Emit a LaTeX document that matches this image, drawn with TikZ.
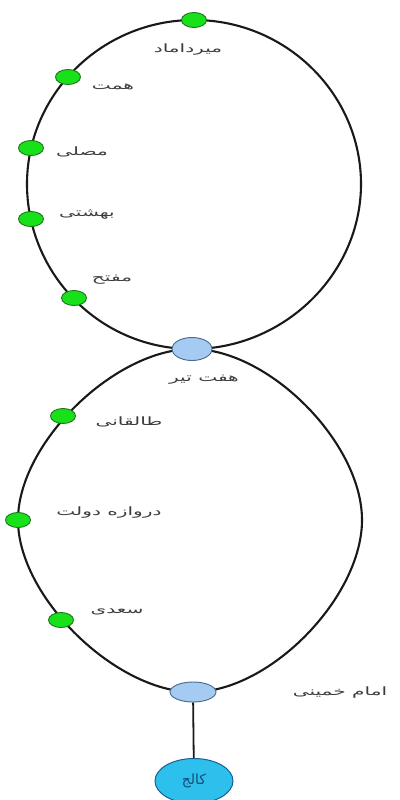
\documentclass[tikz,border=0pt]{standalone}
\usepackage{fontspec}
\usepackage{xcolor}
\usepackage{tikz}
\usetikzlibrary{shapes.geometric, backgrounds}
\newfontfamily\farsi[Script=Arabic]{DejaVu Sans}
\TeXXeTstate=1

\definecolor{stfill}{RGB}{25,225,25}
\definecolor{stdraw}{RGB}{25,115,25}
\definecolor{hubfill}{RGB}{165,203,242}
\definecolor{hubdraw}{RGB}{70,105,140}
\definecolor{endfill}{RGB}{45,192,236}
\definecolor{enddraw}{RGB}{25,95,150}
\definecolor{lblgray}{RGB}{60,60,60}

\begin{document}
\begin{tikzpicture}[x=1pt, y=-1pt,
    track/.style={draw=black!90, line width=2.1pt},
    station/.style={ellipse, draw=stdraw, fill=stfill, line width=0.9pt, inner sep=0pt, minimum width=25pt, minimum height=15pt},
    hub/.style={ellipse, draw=hubdraw, fill=hubfill, line width=0.9pt, inner sep=0pt, minimum width=40pt, minimum height=23pt},
    terminal/.style={ellipse, draw=enddraw, fill=endfill, line width=1pt, inner sep=0pt, minimum width=78pt, minimum height=45pt, font=\farsi\fontsize{14}{16}\selectfont, text=enddraw!80!black},
    lbl/.style={inner sep=0pt, text=lblgray, font=\farsi\fontsize{11.5}{14}\selectfont, xscale=1.75, transform shape}]
    \useasboundingbox (0,0) rectangle (399,800);
    % extreme points of the two loops
    \coordinate (upleft) at (27,184);
    \coordinate (upright) at (361,184);
    \coordinate (lowleft) at (18,520);
    \coordinate (lowright) at (362,520);
    % stations of the upper loop
    \node[station] (mirdamad) at (194,20) {};
    \node[station] (hemmat) at (68,77) {};
    \node[station] (mosalla) at (31,148) {};
    \node[station] (beheshti) at (31,219) {};
    \node[station] (mofatteh) at (74,298) {};
    \node[hub] (haftetir) at (192,349) {};
    % stations of the lower loop
    \node[station] (taleghani) at (63,416) {};
    \node[station] (darvazeh) at (18,520) {};
    \node[station] (saadi) at (61,620) {};
    \node[hub, minimum width=46pt, minimum height=20pt] (imam) at (193,692) {};
    \node[terminal] (college) at (194,781) {\beginR کالج\endR};
    % labels
    \node[lbl] (mirdamadlbl) at (188,50) {\beginR میرداماد\endR};
    \node[lbl] (hemmatlbl) at (113,87) {\beginR همت\endR};
    \node[lbl] (mosallalbl) at (82,152) {\beginR مصلی\endR};
    \node[lbl] (beheshtilbl) at (87,215) {\beginR بهشتی\endR};
    \node[lbl] (mofattehlbl) at (112,280) {\beginR مفتح\endR};
    \node[lbl] (haftetirlbl) at (204,380) {\beginR هفت تیر\endR};
    \node[lbl] (taleghanilbl) at (129,422) {\beginR طالقانی\endR};
    \node[lbl] (darvazehlbl) at (109,513) {\beginR دروازه دولت\endR};
    \node[lbl] (saadilbl) at (117,612) {\beginR سعدی\endR};
    \node[lbl] (imamlbl) at (340,693) {\beginR امام خمینی\endR};
    % the two loops and the branch
    \begin{scope}[on background layer]
        \draw[track] (mirdamad.center) .. controls +(92,0) and +(0,-90) .. (upright)
            .. controls +(0,90) and +(92,0) .. (haftetir.center)
            .. controls +(-92,0) and +(0,90) .. (upleft)
            .. controls +(0,-90) and +(-92,0) .. (mirdamad.center) -- cycle;
        \draw[track] (haftetir.center) .. controls +(77,0) and +(0,-77) .. (lowright)
            .. controls +(0,77) and +(77,0) .. (imam.center)
            .. controls +(-77,0) and +(0,77) .. (lowleft)
            .. controls +(0,-77) and +(-77,0) .. (haftetir.center) -- cycle;
        \draw[track, line width=1.8pt] (imam) -- (college);
    \end{scope}
\end{tikzpicture}
\end{document}
